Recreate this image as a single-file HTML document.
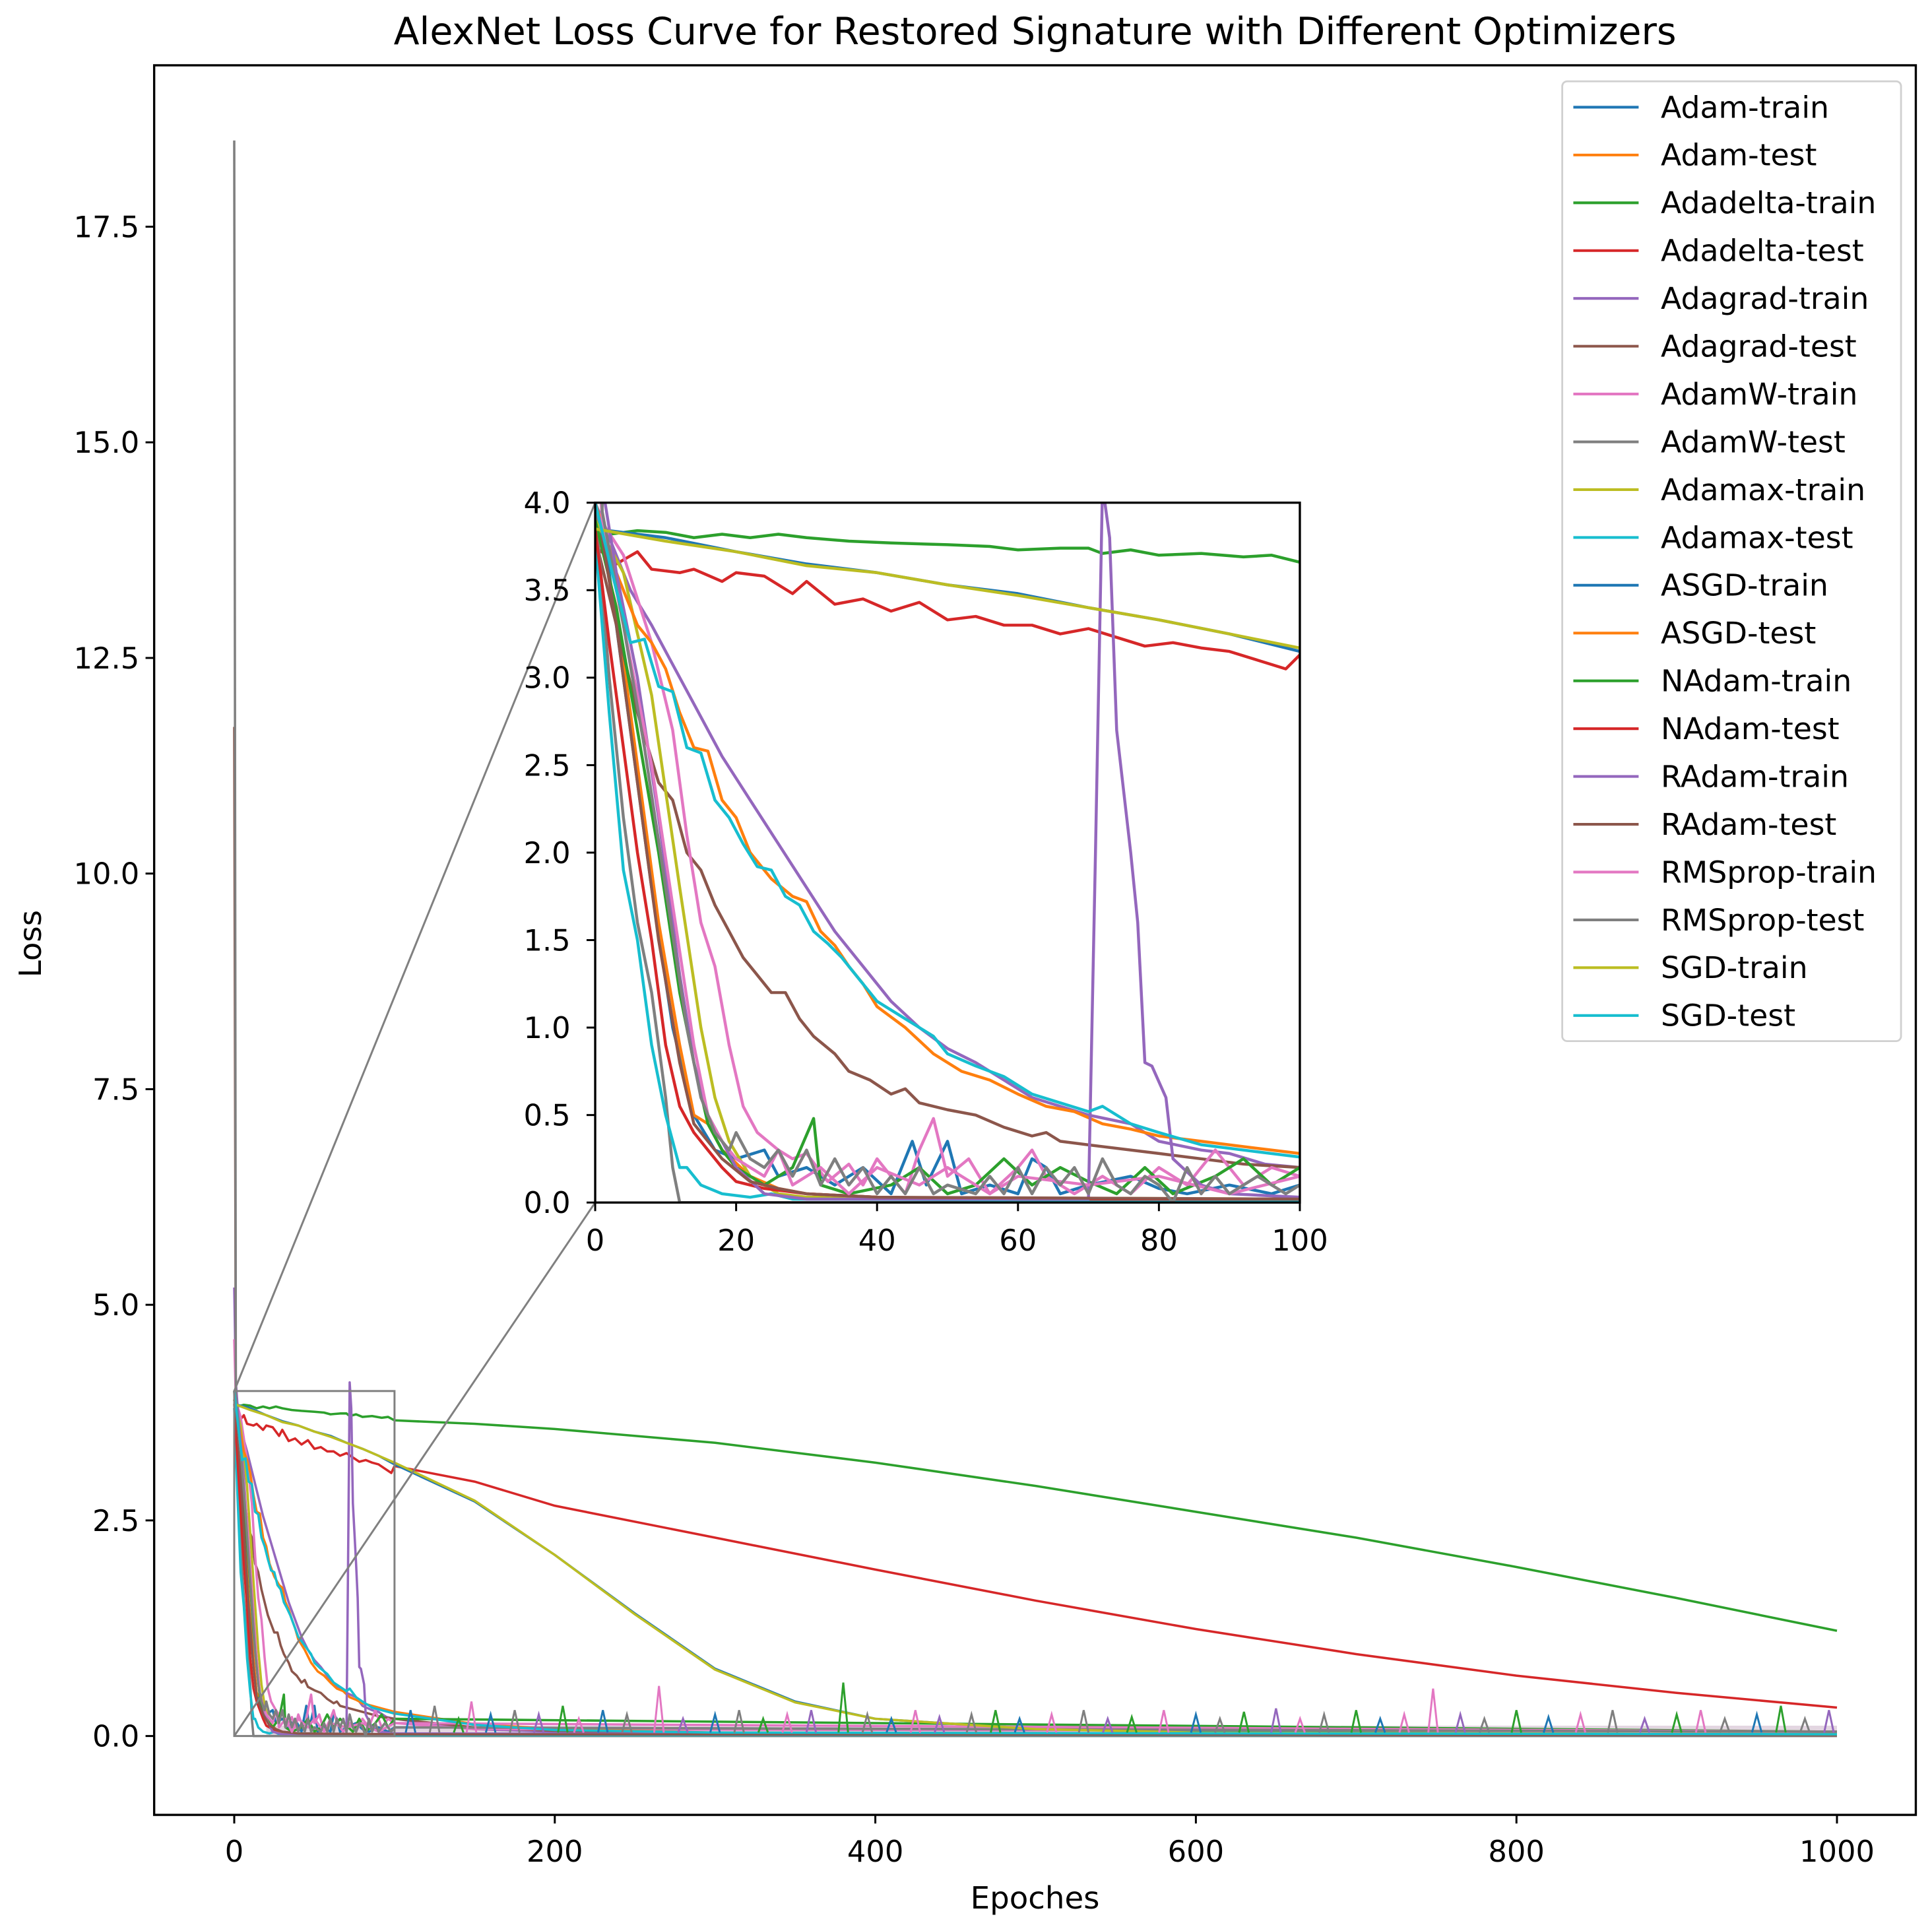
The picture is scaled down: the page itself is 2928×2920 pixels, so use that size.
<!DOCTYPE html>
<html><head><meta charset="utf-8"><style>
html,body{margin:0;padding:0;background:#fff;}
svg{display:block;font-family:"DejaVu Sans","Liberation Sans",sans-serif;}
</style></head><body>
<svg id="chart" width="2928" height="2920" viewBox="0 0 1568 1564" xmlns="http://www.w3.org/2000/svg">
<rect x="0" y="0" width="1568" height="1564" fill="#fff"/>
<text x="840" y="36" font-size="30.5" text-anchor="middle" fill="#000">AlexNet Loss Curve for Restored Signature with Different Optimizers</text>
<text x="840" y="1549" font-size="25" text-anchor="middle" fill="#000">Epoches</text>
<text x="33" y="766" font-size="25" text-anchor="middle" fill="#000" transform="rotate(-90 33 766)">Loss</text>
<defs>
<clipPath id="mainClip"><rect x="125" y="53" width="1430" height="1420"/></clipPath>
<clipPath id="insetClip"><rect x="483" y="408" width="572" height="568"/></clipPath>
</defs>
<g id="mainLines" clip-path="url(#mainClip)"></g>
<g id="mainAxes"></g>
<g id="indicator"></g>
<rect x="483" y="408" width="572" height="568" fill="#fff"/>
<g id="insetLines" clip-path="url(#insetClip)"></g>
<g id="insetAxes"></g>
<g id="legend"></g>
</svg>
<script>
const seriesNames = ["Adam-train","Adam-test","Adadelta-train","Adadelta-test","Adagrad-train","Adagrad-test","AdamW-train","AdamW-test","Adamax-train","Adamax-test","ASGD-train","ASGD-test","NAdam-train","NAdam-test","RAdam-train","RAdam-test","RMSprop-train","RMSprop-test","SGD-train","SGD-test"];
const seriesColors = ["#1f77b4","#ff7f0e","#2ca02c","#d62728","#9467bd","#8c564b","#e377c2","#7f7f7f","#bcbd22","#17becf","#1f77b4","#ff7f0e","#2ca02c","#d62728","#9467bd","#8c564b","#e377c2","#7f7f7f","#bcbd22","#17becf"];

const adamTrain = [[0,4.0],[2,3.6],[5,2.7],[8,1.8],[11,1.0],[14,0.5],[17,0.3],[20,0.25],[24,0.3],[26,0.15],[30,0.2],[34,0.1],[38,0.2],[42,0.05],[45,0.35],[47,0.1],[50,0.35],[52,0.05],[56,0.1],[60,0.05],[62,0.25],[64,0.2],[66,0.05],[70,0.1],[76,0.15],[80,0.08],[84,0.05],[90,0.1],[96,0.05],[100,0.1],[1000,0.05]];
const adamTest = [[0,3.9],[3,3.4],[6,2.5],[9,1.6],[12,0.9],[14,0.5],[16,0.45],[18,0.3],[22,0.15],[26,0.08],[30,0.05],[40,0.03],[60,0.02],[100,0.02],[1000,0.01]];
const adadeltaTrain = [[0,3.88],[2,3.82],[6,3.84],[10,3.83],[14,3.8],[18,3.82],[22,3.8],[26,3.82],[30,3.8],[36,3.78],[42,3.77],[50,3.76],[56,3.75],[60,3.73],[66,3.74],[70,3.74],[72,3.71],[76,3.73],[80,3.7],[86,3.71],[92,3.69],[96,3.7],[100,3.66],[150,3.62],[200,3.56],[300,3.4],[400,3.17],[500,2.9],[600,2.6],[700,2.3],[800,1.96],[900,1.6],[1000,1.22]];
const adadeltaTest = [[0,3.75],[3,3.65],[6,3.72],[8,3.62],[12,3.6],[14,3.62],[18,3.55],[20,3.6],[24,3.58],[28,3.48],[30,3.55],[34,3.42],[38,3.45],[42,3.38],[46,3.43],[50,3.33],[54,3.35],[58,3.3],[62,3.3],[66,3.25],[70,3.28],[74,3.23],[78,3.18],[82,3.2],[86,3.17],[90,3.15],[94,3.1],[98,3.05],[100,3.13],[150,2.95],[200,2.67],[300,2.3],[400,1.93],[500,1.57],[600,1.24],[700,0.95],[800,0.7],[900,0.5],[1000,0.33]];
const adagradTrain = [[0,4.0],[2,3.8],[5,3.5],[8,3.3],[10,3.15],[14,2.85],[18,2.55],[22,2.3],[26,2.05],[30,1.8],[34,1.55],[38,1.35],[42,1.15],[46,1.0],[50,0.88],[54,0.8],[58,0.7],[62,0.6],[66,0.55],[70,0.5],[76,0.45],[80,0.35],[86,0.3],[90,0.28],[95,0.22],[100,0.2],[150,0.08],[200,0.05],[300,0.03],[1000,0.02]];
const adagradTest = [[0,3.8],[3,3.3],[6,2.8],[9,2.4],[11,2.3],[13,2.0],[15,1.9],[17,1.7],[19,1.55],[21,1.4],[23,1.3],[25,1.2],[27,1.2],[29,1.05],[31,0.95],[34,0.85],[36,0.75],[39,0.7],[42,0.62],[44,0.65],[46,0.57],[50,0.53],[54,0.5],[58,0.43],[62,0.38],[64,0.4],[66,0.35],[72,0.32],[80,0.28],[86,0.25],[92,0.22],[100,0.2],[150,0.1],[200,0.06],[300,0.03],[1000,0.02]];
const adamwTrain = [[0,3.95],[4,3.7],[8,3.2],[11,2.7],[13,2.1],[15,1.6],[17,1.35],[19,0.9],[21,0.55],[23,0.4],[26,0.3],[28,0.25],[30,0.28],[33,0.12],[36,0.22],[38,0.1],[40,0.25],[42,0.15],[44,0.05],[46,0.3],[48,0.48],[50,0.15],[53,0.25],[56,0.05],[60,0.2],[62,0.3],[64,0.15],[68,0.05],[72,0.15],[76,0.05],[80,0.2],[84,0.1],[88,0.3],[92,0.1],[96,0.2],[100,0.15],[150,0.08],[1000,0.05]];
const adamwTest = [[0,4.0],[2,3.0],[4,2.2],[6,1.6],[8,1.2],[10,0.6],[11,0.2],[12,0.0],[100,0.0],[1000,0.0]];
const adamaxTrain = [[0,3.9],[4,3.6],[8,2.9],[12,1.8],[15,1.0],[17,0.6],[19,0.35],[22,0.15],[26,0.05],[30,0.03],[100,0.02],[1000,0.01]];
const adamaxTest = [[0,3.8],[2,2.8],[4,1.9],[6,1.5],[8,0.9],[10,0.5],[12,0.2],[13,0.2],[15,0.1],[18,0.05],[22,0.03],[25,0.05],[28,0.02],[100,0.01],[1000,0.01]];
const asgdTrain = [[0,3.85],[10,3.8],[20,3.72],[30,3.65],[40,3.6],[50,3.53],[60,3.48],[70,3.4],[80,3.33],[90,3.25],[100,3.15],[150,2.72],[200,2.1],[250,1.42],[300,0.78],[350,0.4],[400,0.2],[500,0.08],[600,0.05],[800,0.03],[1000,0.02]];
const asgdTest = [[0,4.0],[3,3.6],[6,3.3],[8,3.2],[10,3.05],[12,2.8],[14,2.6],[16,2.58],[18,2.3],[20,2.2],[22,2.0],[25,1.85],[28,1.75],[30,1.72],[32,1.55],[34,1.47],[36,1.35],[38,1.25],[40,1.12],[44,1.0],[48,0.85],[52,0.75],[56,0.7],[60,0.62],[64,0.55],[68,0.52],[72,0.45],[76,0.42],[80,0.38],[86,0.35],[92,0.32],[100,0.28],[150,0.14],[200,0.08],[300,0.04],[1000,0.02]];
const nadamTrain = [[0,3.9],[3,3.4],[6,2.7],[9,2.0],[12,1.2],[14,0.8],[16,0.45],[18,0.3],[20,0.2],[24,0.1],[28,0.2],[31,0.48],[32,0.1],[36,0.05],[42,0.1],[46,0.2],[50,0.05],[54,0.1],[58,0.25],[62,0.1],[66,0.2],[70,0.12],[74,0.05],[78,0.2],[82,0.05],[88,0.15],[92,0.25],[96,0.1],[100,0.2],[1000,0.05]];
const nadamTest = [[0,3.85],[2,3.2],[4,2.6],[6,2.0],[8,1.5],[10,0.9],[12,0.55],[14,0.4],[16,0.3],[18,0.2],[20,0.12],[24,0.08],[30,0.05],[40,0.03],[60,0.02],[100,0.02],[1000,0.01]];
const radamTrain = [[0,5.2],[1,4.1],[3,3.6],[6,3.0],[9,2.2],[12,1.3],[14,0.8],[16,0.5],[18,0.35],[20,0.2],[24,0.05],[30,0.02],[70,0.02],[71,2.0],[72,4.1],[73,3.8],[74,2.7],[76,2.0],[77,1.6],[78,0.8],[79,0.78],[81,0.6],[82,0.25],[86,0.1],[90,0.05],[100,0.03],[1000,0.01]];
const radamTest = [[0,11.7],[1,3.8],[3,3.3],[6,2.4],[9,1.5],[12,0.8],[14,0.45],[16,0.35],[18,0.25],[22,0.12],[26,0.08],[30,0.05],[40,0.03],[100,0.02],[1000,0.01]];
const rmspropTrain = [[0,4.6],[1,3.9],[4,3.3],[8,2.5],[11,1.7],[14,0.9],[16,0.5],[18,0.35],[20,0.25],[24,0.15],[26,0.3],[28,0.1],[32,0.2],[36,0.05],[40,0.2],[46,0.1],[50,0.2],[56,0.05],[60,0.15],[70,0.1],[80,0.15],[90,0.05],[100,0.15],[1000,0.05]];
const rmspropTest = [[0,18.5],[1,3.95],[4,3.3],[7,2.6],[10,1.8],[13,1.0],[15,0.6],[17,0.4],[19,0.3],[20,0.4],[22,0.25],[24,0.2],[26,0.3],[28,0.15],[30,0.3],[32,0.1],[34,0.25],[36,0.1],[38,0.2],[40,0.05],[42,0.15],[44,0.05],[46,0.2],[48,0.05],[50,0.1],[54,0.05],[56,0.15],[58,0.05],[60,0.2],[62,0.05],[64,0.2],[66,0.1],[68,0.2],[70,0.05],[72,0.25],[74,0.1],[76,0.05],[78,0.15],[80,0.1],[82,0.0],[84,0.2],[86,0.05],[88,0.15],[90,0.05],[94,0.15],[98,0.05],[100,0.1],[1000,0.05]];
const sgdTrain = [[0,3.85],[10,3.78],[20,3.72],[30,3.64],[40,3.6],[50,3.53],[60,3.47],[70,3.4],[80,3.33],[90,3.25],[100,3.17],[150,2.73],[200,2.1],[250,1.41],[300,0.77],[350,0.39],[400,0.2],[500,0.08],[600,0.04],[1000,0.02]];
const sgdTest = [[0,4.0],[3,3.5],[5,3.2],[7,3.22],[9,2.95],[11,2.92],[13,2.6],[15,2.57],[17,2.3],[19,2.2],[21,2.05],[23,1.92],[25,1.9],[27,1.75],[29,1.7],[31,1.55],[33,1.48],[35,1.4],[37,1.3],[40,1.15],[44,1.05],[48,0.95],[50,0.85],[54,0.78],[58,0.72],[62,0.62],[66,0.57],[70,0.52],[72,0.55],[76,0.45],[80,0.4],[86,0.33],[92,0.3],[100,0.26],[150,0.13],[200,0.07],[300,0.04],[1000,0.02]];

const spikeEpochs = [110,125,140,148,160,175,190,205,215,230,245,265,280,300,315,330,345,360,380,395,410,425,440,460,475,490,510,530,545,560,580,600,615,630,650,665,680,700,715,730,748,765,780,800,820,840,860,880,900,915,930,950,965,980,995];
const spikeValues = [0.3,0.35,0.2,0.4,0.25,0.3,0.25,0.35,0.2,0.3,0.25,0.58,0.2,0.25,0.3,0.2,0.25,0.3,0.62,0.25,0.2,0.3,0.22,0.25,0.3,0.2,0.25,0.3,0.2,0.22,0.3,0.25,0.2,0.28,0.32,0.2,0.25,0.3,0.2,0.25,0.55,0.25,0.2,0.3,0.22,0.25,0.3,0.2,0.25,0.3,0.2,0.25,0.35,0.2,0.3];
const spikeSeries = [0,17,12,16,0,17,4,12,16,0,17,16,4,0,17,12,16,4,12,17,0,16,4,17,12,0,16,17,4,12,16,0,17,12,4,16,17,12,0,16,16,4,17,12,0,16,17,4,12,16,17,0,12,17,4];

const seriesData = [adamTrain,adamTest,adadeltaTrain,adadeltaTest,adagradTrain,adagradTest,adamwTrain,adamwTest,adamaxTrain,adamaxTest,asgdTrain,asgdTest,nadamTrain,nadamTest,radamTrain,radamTest,rmspropTrain,rmspropTest,sgdTrain,sgdTest];
const mainYTicks = [0,2.5,5,7.5,10,12.5,15,17.5];
const mainYTickLabels = ["0.0","2.5","5.0","7.5","10.0","12.5","15.0","17.5"];
const mainXTicks = [0,200,400,600,800,1000];
const insetYTicks = [0,0.5,1,1.5,2,2.5,3,3.5,4];
const insetYTickLabels = ["0.0","0.5","1.0","1.5","2.0","2.5","3.0","3.5","4.0"];
const insetXTicks = [0,20,40,60,80,100];

const NS = "http://www.w3.org/2000/svg";
const mx = e => 190 + e * 1.301;
const my = v => 1409 - v * 70;
const ix = e => 483 + e * 5.72;
const iy = v => 976 - v * 142;

function mk(tag, attrs, parent){
  const el = document.createElementNS(NS, tag);
  for (const k in attrs) el.setAttribute(k, attrs[k]);
  parent.appendChild(el);
  return el;
}
const mainLines = document.getElementById('mainLines');
const insetLines = document.getElementById('insetLines');
const band = mk('rect', {x:mx(20), y:my(0.12), width:mx(1000)-mx(20), height:my(0)-my(0.12), fill:'#b08aa8', opacity:0.35}, mainLines);


seriesData.forEach((d, i) => {
  const pl = mk('polyline', {points: d.map(p => mx(p[0]).toFixed(1)+','+my(p[1]).toFixed(1)).join(' '), fill:'none', stroke:seriesColors[i], 'stroke-width':1.9, 'stroke-linejoin':'round'}, mainLines);
  
  
  const pi = mk('polyline', {points: d.filter(p => p[0] <= 150).map(p => ix(p[0]).toFixed(1)+','+iy(p[1]).toFixed(1)).join(' '), fill:'none', stroke:seriesColors[i], 'stroke-width':2.4, 'stroke-linejoin':'round'}, insetLines);
  
  
});
spikeEpochs.forEach((e, k) => {
  const s = mk('polyline', {points: mx(e-3)+','+my(0.04)+' '+mx(e)+','+my(spikeValues[k])+' '+mx(e+3)+','+my(0.04), fill:'none', stroke:seriesColors[spikeSeries[k]], 'stroke-width':1.6}, mainLines);
  
  
});

const ma = document.getElementById('mainAxes');
const frame = mk('rect', {x:125, y:53, width:1430, height:1420, fill:'none', stroke:'#000', 'stroke-width':1.8}, ma);


mainYTicks.forEach((v, k) => {
  mk('line', {x1:118, x2:125, y1:my(v), y2:my(v), stroke:'#000', 'stroke-width':1.6}, ma);
  const t = mk('text', {x:113, y:my(v)+8.5, 'font-size':24, 'text-anchor':'end'}, ma);
  t.textContent = mainYTickLabels[k];
  
  
});
mainXTicks.forEach(v => {
  mk('line', {x1:mx(v), x2:mx(v), y1:1473, y2:1480, stroke:'#000', 'stroke-width':1.6}, ma);
  const t = mk('text', {x:mx(v), y:1511, 'font-size':24, 'text-anchor':'middle'}, ma);
  t.textContent = String(v);
  
  
});

const ind = document.getElementById('indicator');
const r = mk('rect', {x:mx(0), y:my(4), width:mx(100)-mx(0), height:my(0)-my(4), fill:'none', stroke:'#808080', 'stroke-width':1.6}, ind);


const c1 = mk('line', {x1:mx(0), y1:my(4), x2:ix(0), y2:iy(4), stroke:'#808080', 'stroke-width':1.6}, ind);


const c2 = mk('line', {x1:mx(0), y1:my(0), x2:ix(0), y2:iy(0), stroke:'#808080', 'stroke-width':1.6}, ind);



const ia = document.getElementById('insetAxes');
const f2 = mk('rect', {x:483, y:408, width:572, height:568, fill:'none', stroke:'#000', 'stroke-width':1.8}, ia);


insetYTicks.forEach((v, k) => {
  mk('line', {x1:476, x2:483, y1:iy(v), y2:iy(v), stroke:'#000', 'stroke-width':1.6}, ia);
  const t = mk('text', {x:463, y:iy(v)+8.5, 'font-size':24, 'text-anchor':'end'}, ia);
  t.textContent = insetYTickLabels[k];
  
  
});
insetXTicks.forEach(v => {
  mk('line', {x1:ix(v), x2:ix(v), y1:976, y2:983, stroke:'#000', 'stroke-width':1.6}, ia);
  const t = mk('text', {x:ix(v), y:1015, 'font-size':24, 'text-anchor':'middle'}, ia);
  t.textContent = String(v);
  
  
});

const lg = document.getElementById('legend');
const lb = mk('rect', {x:1268, y:66, width:275, height:779, rx:4, fill:'#fff', 'fill-opacity':0.8, stroke:'#d0d0d0', 'stroke-width':1.5}, lg);


seriesNames.forEach((n, i) => {
  const y = 87 + i * 38.8;
  const g = mk('g', {}, lg);
  
  
  mk('line', {x1:1277, x2:1330, y1:y, y2:y, stroke:seriesColors[i], 'stroke-width':2.2}, g);
  const t = mk('text', {x:1348, y:y+8.5, 'font-size':24.5}, g);
  t.textContent = n;
});
</script>
</body></html>
